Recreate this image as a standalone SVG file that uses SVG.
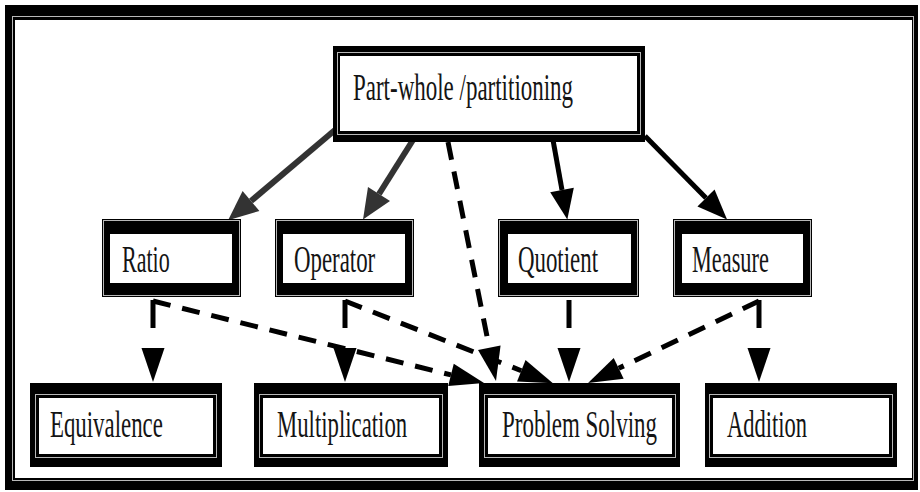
<svg xmlns="http://www.w3.org/2000/svg" width="920" height="492" viewBox="0 0 920 492">
  <style>
    .band { fill: #000; }
    .hair { fill: none; stroke: #b8b8b8; stroke-width: 1; }
    .inner { fill: #fff; }
    .label { font-family: "Liberation Serif", "Times New Roman", serif; font-size: 37px; fill: #141414; }
    .solid-gray { fill: none; stroke: #333; stroke-width: 6; }
    .solid-black { fill: none; stroke: #000; stroke-width: 5; }
    .dash-diag { fill: none; stroke: #000; stroke-width: 5; stroke-dasharray: 18 12; }
    .dash-vert { fill: none; stroke: #000; stroke-width: 5; stroke-dasharray: 28 40; }
  </style>
  <defs>
    <marker id="headGray" markerUnits="userSpaceOnUse" markerWidth="32" markerHeight="26" refX="0" refY="13" orient="auto" overflow="visible">
      <path d="M0,0 L30,13 L0,26 z" fill="#333"/>
    </marker>
    <marker id="headBlack" markerUnits="userSpaceOnUse" markerWidth="32" markerHeight="24" refX="0" refY="12" orient="auto" overflow="visible">
      <path d="M0,0 L30,12 L0,24 z" fill="#000"/>
    </marker>
    <marker id="headDash" markerUnits="userSpaceOnUse" markerWidth="34" markerHeight="23" refX="0" refY="11.5" orient="auto" overflow="visible">
      <path d="M0,0 L34,11.5 L0,23 z" fill="#000"/>
    </marker>
  </defs>

  <rect width="920" height="492" fill="#fff"/>

  <!-- outer frame -->
  <g id="frame">
    <rect class="band" x="5" y="5" width="913" height="485"/>
    <rect class="hair" x="12.5" y="16.5" width="901" height="464"/>
    <rect class="inner" x="15" y="20" width="897" height="458"/>
  </g>

  <!-- connectors -->
  <g id="connectors">
    <path class="solid-gray" d="M335,130 L251,201" marker-end="url(#headGray)"/>
    <path class="solid-gray" d="M413,140 L379,194" marker-end="url(#headGray)"/>
    <path class="solid-black" d="M553,140 L562,190" marker-end="url(#headBlack)"/>
    <path class="solid-black" d="M645,136 L706,198" marker-end="url(#headBlack)"/>

    <path class="dash-diag" d="M448,142 L489.3,347.7" marker-end="url(#headDash)"/>
    <path class="dash-vert" d="M153,300 L153,348" marker-end="url(#headDash)"/>
    <path class="dash-diag" d="M153,301 L451,374.9" marker-end="url(#headDash)"/>
    <path class="dash-vert" d="M345,300 L345,348" marker-end="url(#headDash)"/>
    <path class="dash-diag" d="M345,301 L521.3,370.7" marker-end="url(#headDash)"/>
    <path class="dash-vert" d="M569,300 L569,348" marker-end="url(#headDash)"/>
    <path class="dash-vert" d="M759,300 L759,348" marker-end="url(#headDash)"/>
    <path class="dash-diag" d="M759,301 L618.7,368.3" marker-end="url(#headDash)"/>
  </g>

  <!-- top node -->
  <g id="part-whole">
    <rect class="band" x="333" y="46" width="312" height="96"/>
    <rect class="hair" x="337.5" y="52.5" width="303" height="82"/>
    <rect class="inner" x="340" y="56" width="297" height="75"/>
    <text class="label" transform="translate(353,100) scale(0.62,1)" textLength="355" lengthAdjust="spacingAndGlyphs">Part-whole /partitioning</text>
  </g>

  <!-- middle row -->
  <g id="ratio">
    <rect class="band" x="102" y="219" width="139" height="78"/>
    <rect class="hair" x="103.5" y="220.5" width="136" height="75"/>
    <rect class="inner" x="110" y="234" width="122" height="49"/>
    <text class="label" transform="translate(122,272) scale(0.62,1)" textLength="77" lengthAdjust="spacingAndGlyphs">Ratio</text>
  </g>
  <g id="operator">
    <rect class="band" x="275" y="219" width="139" height="78"/>
    <rect class="hair" x="276.5" y="220.5" width="136" height="75"/>
    <rect class="inner" x="283" y="234" width="122" height="49"/>
    <text class="label" transform="translate(294,272) scale(0.62,1)" textLength="131" lengthAdjust="spacingAndGlyphs">Operator</text>
  </g>
  <g id="quotient">
    <rect class="band" x="498" y="219" width="141" height="78"/>
    <rect class="hair" x="499.5" y="220.5" width="138" height="75"/>
    <rect class="inner" x="508" y="234" width="123" height="49"/>
    <text class="label" transform="translate(518,272) scale(0.62,1)" textLength="129" lengthAdjust="spacingAndGlyphs">Quotient</text>
  </g>
  <g id="measure">
    <rect class="band" x="673" y="219" width="139" height="78"/>
    <rect class="hair" x="674.5" y="220.5" width="136" height="75"/>
    <rect class="inner" x="682" y="234" width="121" height="49"/>
    <text class="label" transform="translate(692,272) scale(0.62,1)" textLength="124" lengthAdjust="spacingAndGlyphs">Measure</text>
  </g>

  <!-- bottom row -->
  <g id="equivalence">
    <rect class="band" x="30" y="383" width="192" height="84"/>
    <rect class="hair" x="35.5" y="394.5" width="181" height="63"/>
    <rect class="inner" x="39" y="398" width="174" height="56"/>
    <text class="label" transform="translate(50,437) scale(0.62,1)" textLength="182" lengthAdjust="spacingAndGlyphs">Equivalence</text>
  </g>
  <g id="multiplication">
    <rect class="band" x="254" y="383" width="194" height="84"/>
    <rect class="hair" x="259.5" y="394.5" width="183" height="63"/>
    <rect class="inner" x="263" y="398" width="176" height="56"/>
    <text class="label" transform="translate(277,437) scale(0.62,1)" textLength="210" lengthAdjust="spacingAndGlyphs">Multiplication</text>
  </g>
  <g id="problem-solving">
    <rect class="band" x="479" y="383" width="201" height="84"/>
    <rect class="hair" x="484.5" y="394.5" width="191" height="63"/>
    <rect class="inner" x="488" y="398" width="184" height="56"/>
    <text class="label" transform="translate(502,437) scale(0.62,1)" textLength="250" lengthAdjust="spacingAndGlyphs">Problem Solving</text>
  </g>
  <g id="addition">
    <rect class="band" x="705" y="383" width="192" height="84"/>
    <rect class="hair" x="709.5" y="394.5" width="183" height="63"/>
    <rect class="inner" x="713" y="398" width="176" height="56"/>
    <text class="label" transform="translate(727,437) scale(0.62,1)" textLength="129" lengthAdjust="spacingAndGlyphs">Addition</text>
  </g>
</svg>
